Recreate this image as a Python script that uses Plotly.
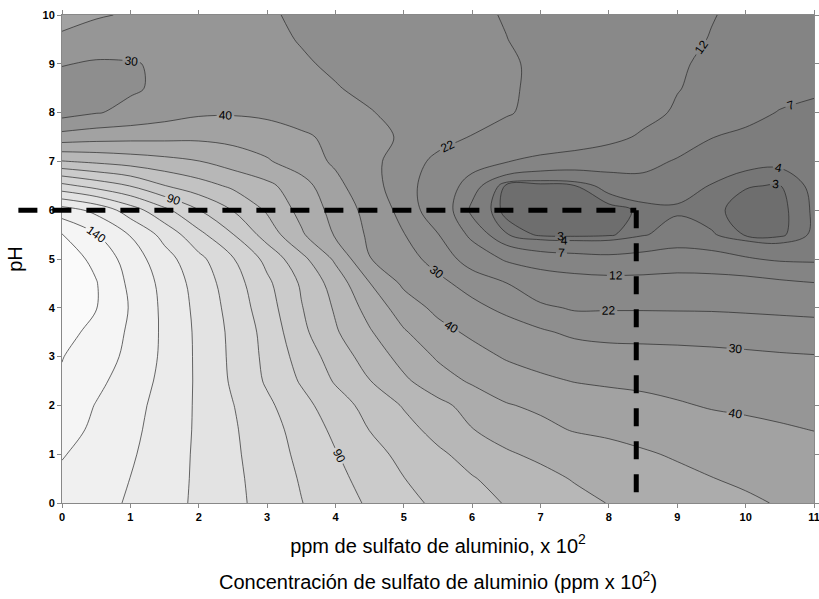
import numpy as np
import plotly.graph_objects as go

# ---- data ----
ppm_x = [0, 0.5, 1, 1.5, 2, 2.5, 3, 3.5, 4, 4.5, 5, 5.5, 6, 6.5, 7, 7.5, 8, 8.5, 9, 9.5, 10, 10.5, 11]
ph_y = [0, 0.5, 1, 1.5, 2, 2.5, 3, 3.5, 4, 4.5, 5, 5.5, 6, 6.5, 7, 7.5, 8, 8.5, 9, 9.5, 10]

ph_00 = [137, 134, 128.7, 123.6, 118.3, 112.5, 106.5, 100.3, 94.4, 88.7, 83, 78, 73.6, 69.4, 66.1, 62.8, 59.7, 57.6, 55.5, 53.5, 51.4, 49.4, 47.5]
ph_05 = [138.5, 135, 129.9, 124.2, 118.4, 112.2, 105.8, 99.2, 92.7, 86.3, 80.2, 75.3, 70.6, 66.6, 62.8, 59.3, 57, 54.7, 52.3, 50.2, 48.6, 47.2, 45.7]
ph_10 = [140.5, 137, 131.2, 124.9, 118.4, 111.7, 104.8, 97.8, 90.6, 83.7, 77.2, 71.7, 66.4, 61.1, 58.1, 55.7, 53.3, 51, 49, 47.7, 46.3, 44.9, 43.5]
ph_15 = [143, 138.5, 132.3, 125.8, 118.5, 111.2, 103.9, 96.2, 87.9, 79.8, 73.4, 66.8, 60.3, 56.2, 52.3, 49.4, 48.1, 46.7, 45.3, 43.9, 42.5, 41.1, 39.8]
ph_20 = [147, 139.5, 133.4, 126.4, 118.5, 110.3, 102, 93.3, 84.6, 76.5, 69.2, 62.6, 56.5, 50.6, 48.4, 46.5, 44.7, 42.9, 41, 39.2, 38.3, 37.4, 36.6]
ph_25 = [149, 142.5, 135.2, 127.5, 118.4, 108.6, 98.7, 89, 79, 70.3, 61.7, 54.3, 48.7, 45.3, 42, 39.6, 38.4, 37.7, 36.6, 35.8, 35, 34.2, 33.5]
ph_30 = [150.3, 145.5, 137.3, 128.1, 118.2, 108, 97.6, 86.1, 75.4, 65.6, 56.6, 48.8, 43.8, 39, 36.1, 34.6, 33.2, 32.8, 32.4, 31.9, 31.4, 30.8, 30.4]
ph_35 = [153, 147.5, 138.4, 128.2, 118, 107.6, 96.7, 82.6, 71.1, 61, 51, 43.3, 38.1, 34.7, 31.2, 28.3, 27.5, 27.4, 27.3, 27.1, 26.6, 26.1, 25.6]
ph_40 = [157, 150.3, 139.3, 127.8, 117.3, 106.3, 94.4, 80.6, 68.8, 56.3, 45.1, 37.5, 32.4, 27.8, 23.6, 21.1, 21.3, 21.3, 21.2, 21.1, 20.7, 20.2, 19.7]
ph_45 = [158, 150.5, 138, 127, 116, 104.5, 92.1, 78.8, 65.7, 50.3, 38.2, 32.3, 26.6, 22.2, 16.1, 14.5, 14, 14, 14.5, 14.3, 14, 13, 12.2]
ph_50 = [155, 147.7, 135.3, 124, 112.7, 100.7, 87.1, 72.9, 58.3, 40.3, 33.5, 26.8, 18.2, 10.8, 8.9, 8.3, 7.9, 8.3, 8.7, 8.5, 7.4, 6.4, 6.2]
ph_55 = [150.5, 140.3, 129.5, 116.7, 102.8, 90.3, 75.7, 61.4, 48.9, 38.3, 30.3, 22.3, 9.8, 4.1, 2.7, 2.6, 2.8, 3.8, 5, 4.2, 2.85, 2.7, 4.3]
ph_60 = [134.5, 127.5, 115, 102.5, 90.3, 79.7, 68.8, 57, 46.7, 36.5, 27, 16.7, 6, 2.4, 2.2, 2.2, 2.4, 3.3, 3.7, 3.2, 2.7, 2.6, 4.2]
ph_65 = [103, 96.3, 89.7, 80.3, 74.1, 68.2, 62.4, 54.1, 42.7, 33.4, 25.1, 17.4, 8.7, 2.6, 2.4, 2.95, 4.75, 5.5, 4.85, 3.9, 3.05, 2.95, 4.4]
ph_70 = [70.5, 68, 65.5, 63, 60.3, 55.5, 51, 44.9, 38.5, 32.4, 26, 20, 15.1, 12.3, 10, 9.2, 8.8, 8.3, 6.6, 5.2, 4.6, 4.4, 5]
ph_75 = [44, 46, 47, 47.5, 48, 47, 45, 41.5, 37.8, 33.4, 28.6, 24.9, 21.7, 19.6, 17.5, 15.5, 13.4, 11.3, 9.3, 7.1, 6.2, 5.7, 5.6]
ph_80 = [26, 29.5, 32, 35.5, 38.5, 39, 38, 36, 33.5, 30.3, 28.5, 26.5, 24.3, 22.5, 20.4, 18, 15.5, 13.5, 11.4, 9.8, 8.2, 6.8, 6.3]
ph_85 = [26, 27, 29, 31.5, 33.5, 34, 33.3, 31.8, 30.3, 28.8, 27.3, 25.8, 24.4, 22.8, 20.8, 18.5, 16.3, 14.3, 12.2, 10.7, 9.3, 8.3, 7.5]
ph_90 = [30.5, 29, 29.5, 31, 32.3, 32.5, 31.8, 30.6, 29.2, 28.1, 26.9, 25.5, 24, 22.8, 20.9, 18.8, 16.6, 14.4, 12.5, 11.2, 10.2, 9.3, 8.5]
ph_95 = [38.5, 35, 34, 33.5, 33, 32.3, 31.2, 29.7, 28.6, 27.5, 26.3, 25, 23.6, 22.1, 20.2, 18.4, 16.5, 14.8, 13.2, 11.8, 10.8, 9.9, 9]
ph_100 = [43, 41, 39, 37.5, 35.5, 33, 30.7, 29, 28, 26.8, 25.6, 24.3, 23.2, 21.6, 19.7, 17.8, 16.5, 15, 13.8, 12.2, 11, 10, 9]

contour_levels = [3, 4, 7, 12, 22, 30, 40, 50, 60, 70, 80, 90, 100, 110, 120, 130, 140, 150]
labeled_levels = [3, 4, 7, 12, 22, 30, 40, 90, 140]

x_ticks = [0, 1, 2, 3, 4, 5, 6, 7, 8, 9, 10, 11]
y_ticks = [0, 1, 2, 3, 4, 5, 6, 7, 8, 9, 10]

guide_ph = 6.0
guide_ppm = 8.4

# grey of each filled band (lowest band first: <3, 3-4, 4-7, ... , >150)
band_grays = [110, 118, 125, 132, 137, 142, 150, 162, 172, 183, 194, 203, 211, 218, 227, 235, 240, 245, 250]

# ---- build ----
z = np.array([ph_00, ph_05, ph_10, ph_15, ph_20, ph_25, ph_30, ph_35, ph_40, ph_45, ph_50,
              ph_55, ph_60, ph_65, ph_70, ph_75, ph_80, ph_85, ph_90, ph_95, ph_100], dtype=float)

FONT = "Liberation Sans, Arial, sans-serif"
SMOOTH = 1.0

fig = go.Figure()
# filled bands: a constraint contour shades the region that breaks the constraint,
# so "z < level" shades z > level; stack them from the lowest level upwards
fill_levels = [z.min() - 1] + contour_levels
for lv, g in zip(fill_levels, band_grays):
    fig.add_trace(go.Contour(
        x=ppm_x, y=ph_y, z=z,
        contours=dict(type="constraint", operation="<", value=lv, showlines=False),
        fillcolor=f"rgb({g},{g},{g})",
        line=dict(width=0, smoothing=SMOOTH),
        showscale=False, hoverinfo="skip", showlegend=False,
    ))

# contour lines; each trace draws one level (extra levels far above the data only
# make plotly space the labels more densely along the single visible line)
for lv in contour_levels:
    lab = lv in labeled_levels
    step = 1000.0
    n_extra = 44 if lab else 0
    fig.add_trace(go.Contour(
        x=ppm_x, y=ph_y, z=z, autocontour=False,
        contours=dict(start=lv, end=lv + n_extra * step, size=step, coloring="none",
                      showlabels=lab, labelformat=".0f",
                      labelfont=dict(family=FONT, size=12, color="black")),
        line=dict(color="#2a2a2a", width=0.7, smoothing=SMOOTH),
        showscale=False, hoverinfo="skip", showlegend=False,
    ))

x_span = x_ticks[-1] - x_ticks[0]
y_span = y_ticks[-1] - y_ticks[0]
gx = (guide_ppm - x_ticks[0]) / x_span
gy = (guide_ph - y_ticks[0]) / y_span
fig.add_shape(type="line", xref="paper", yref="paper", x0=-0.058, x1=gx, y0=gy, y1=gy,
              line=dict(color="black", width=5, dash="19px,15px"), layer="above")
fig.add_shape(type="line", xref="paper", yref="paper", x0=gx, x1=gx, y0=gy, y1=0,
              line=dict(color="black", width=5, dash="18px,15px"), layer="above")

axis_common = dict(showgrid=False, zeroline=False, ticks="outside", ticklen=4, tickcolor="#888",
                   showline=True, linecolor="#888", linewidth=1, mirror="ticks", automargin=False,
                   ticklabeloverflow="allow",
                   tickfont=dict(family=FONT, size=11, color="black", weight="bold"))

fig.update_layout(
    width=819, height=599, showlegend=False,
    margin=dict(l=62, r=5, t=15, b=96),
    paper_bgcolor="white", plot_bgcolor="white",
    xaxis=dict(range=[x_ticks[0], x_ticks[-1]], tickvals=x_ticks,
               title=dict(text="ppm de sulfato de aluminio, x 10<sup>2</sup>",
                          font=dict(family=FONT, size=20, color="black"), standoff=16),
               **axis_common),
    yaxis=dict(range=[y_ticks[0], y_ticks[-1]], tickvals=y_ticks,
               title=dict(text="pH", font=dict(family=FONT, size=20, color="black"), standoff=14),
               **axis_common),
    annotations=[dict(text="Concentración de sulfato de aluminio (ppm x 10<sup>2</sup>)",
                      xref="paper", yref="paper", x=0.5, y=-0.158, xanchor="center", yanchor="middle",
                      showarrow=False, font=dict(family=FONT, size=20, color="black"))],
)

fig.write_html("out.html", config={"displayModeBar": False},
               post_script="document.body.style.margin='0';")
